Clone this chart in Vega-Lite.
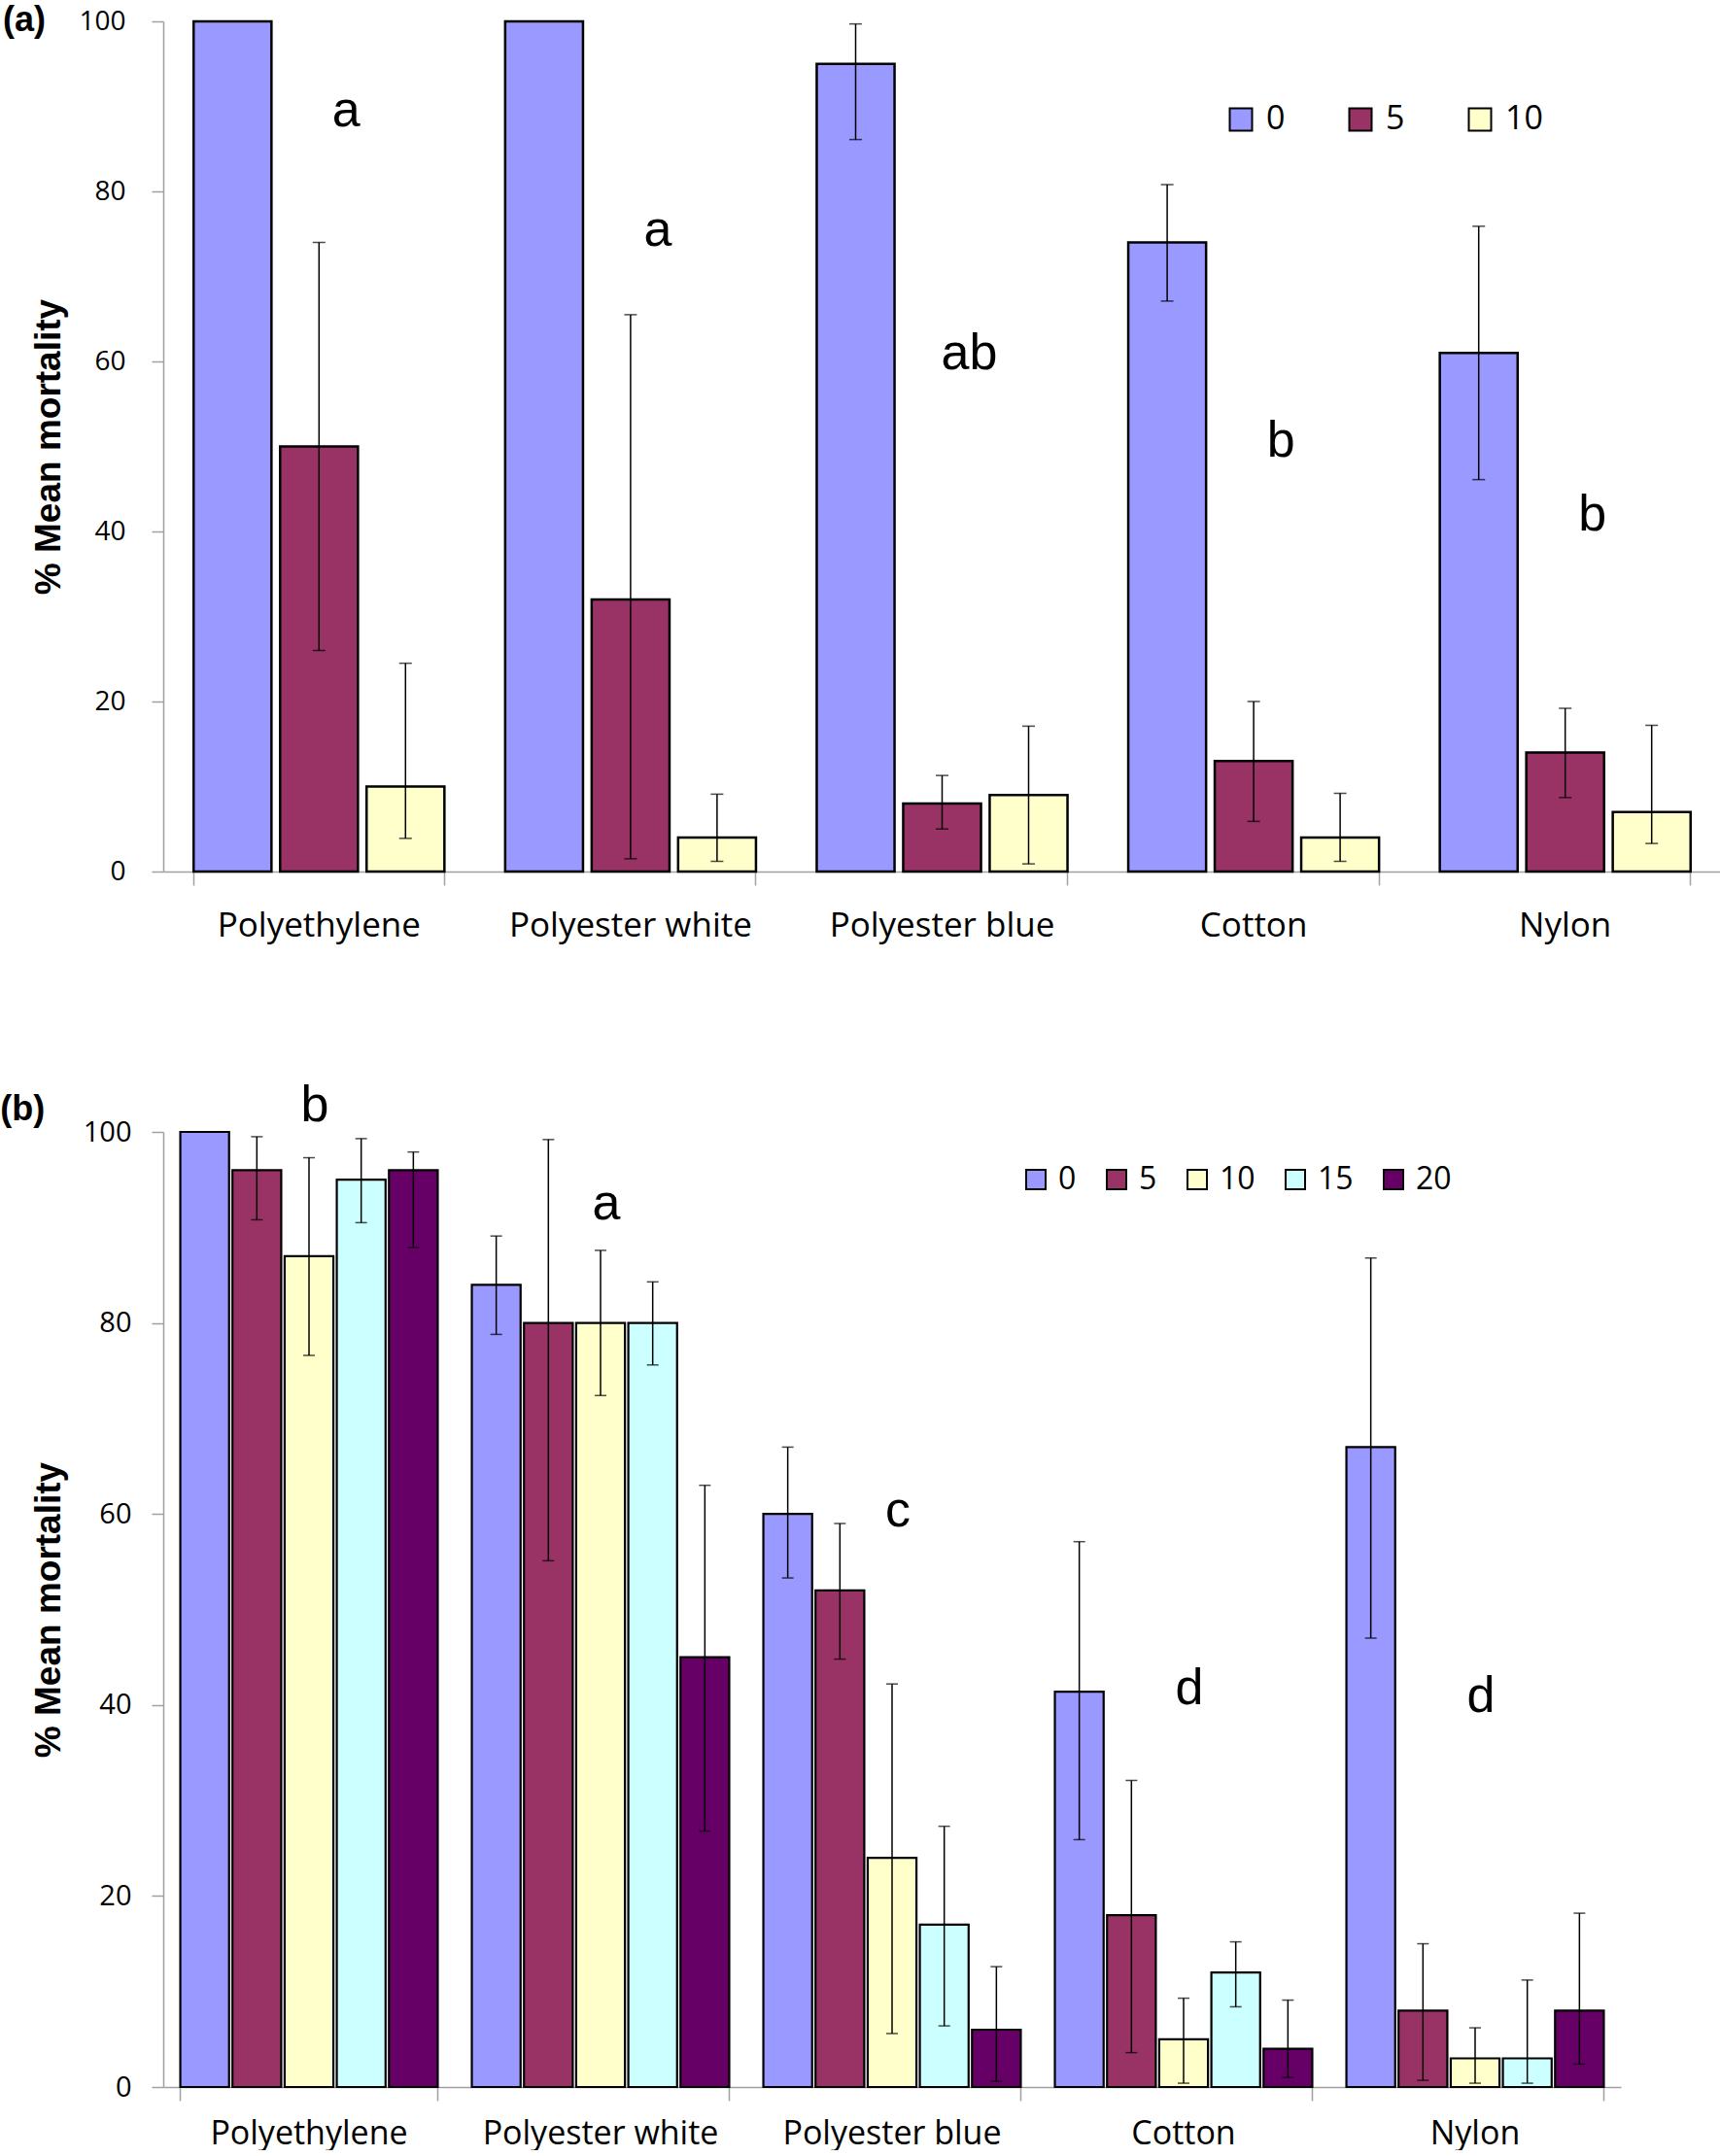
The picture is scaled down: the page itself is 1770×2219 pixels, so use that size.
{
  "$schema": "https://vega.github.io/schema/vega-lite/v6.json",
  "padding": {"left": 0, "top": 3, "right": 0, "bottom": 0},
  "background": "white",
  "spacing": 142,
  "resolve": {"scale": {"color": "independent", "x": "independent", "xOffset": "independent", "y": "independent"}, "legend": {"color": "independent"}},
  "config": {
    "view": {"stroke": null},
    "axis": {"labelFont": "Open Sans", "labelColor": "black", "labelLimit": 0, "domainColor": "#a0a0a0", "tickColor": "#a0a0a0", "domainWidth": 1.5, "tickWidth": 1.5, "grid": false, "titleFont": "Liberation Sans", "titleFontWeight": "bold", "titleColor": "black"},
    "legend": {"padding": 0, "labelColor": "black", "labelFont": "Open Sans", "labelLimit": 0}
  },
  "datasets": {
    "a": [
      {"material": "Polyethylene", "dose": "0", "value": 100, "lo": null, "hi": null},
      {"material": "Polyethylene", "dose": "5", "value": 50, "lo": 26, "hi": 74},
      {"material": "Polyethylene", "dose": "10", "value": 10, "lo": 3.9, "hi": 24.5},
      {"material": "Polyester white", "dose": "0", "value": 100, "lo": null, "hi": null},
      {"material": "Polyester white", "dose": "5", "value": 32, "lo": 1.5, "hi": 65.5},
      {"material": "Polyester white", "dose": "10", "value": 4, "lo": 1.2, "hi": 9.1},
      {"material": "Polyester blue", "dose": "0", "value": 95, "lo": 86.1, "hi": 99.7},
      {"material": "Polyester blue", "dose": "5", "value": 8, "lo": 5.0, "hi": 11.3},
      {"material": "Polyester blue", "dose": "10", "value": 9, "lo": 0.9, "hi": 17.1},
      {"material": "Cotton", "dose": "0", "value": 74, "lo": 67.1, "hi": 80.8},
      {"material": "Cotton", "dose": "5", "value": 13, "lo": 5.9, "hi": 20.0},
      {"material": "Cotton", "dose": "10", "value": 4, "lo": 1.2, "hi": 9.2},
      {"material": "Nylon", "dose": "0", "value": 61, "lo": 46.1, "hi": 75.9},
      {"material": "Nylon", "dose": "5", "value": 14, "lo": 8.7, "hi": 19.2},
      {"material": "Nylon", "dose": "10", "value": 7, "lo": 3.3, "hi": 17.2}
    ],
    "aL": [
      {"material": "Polyethylene", "letter": "a", "y": 89.5},
      {"material": "Polyester white", "letter": "a", "y": 75.4},
      {"material": "Polyester blue", "letter": "ab", "y": 60.9},
      {"material": "Cotton", "letter": "b", "y": 50.6},
      {"material": "Nylon", "letter": "b", "y": 41.9}
    ],
    "b": [
      {"material": "Polyethylene", "dose": "0", "value": 100, "lo": null, "hi": null},
      {"material": "Polyethylene", "dose": "5", "value": 96, "lo": 90.8, "hi": 99.5},
      {"material": "Polyethylene", "dose": "10", "value": 87, "lo": 76.6, "hi": 97.3},
      {"material": "Polyethylene", "dose": "15", "value": 95, "lo": 90.5, "hi": 99.3},
      {"material": "Polyethylene", "dose": "20", "value": 96, "lo": 87.9, "hi": 97.9},
      {"material": "Polyester white", "dose": "0", "value": 84, "lo": 78.8, "hi": 89.1},
      {"material": "Polyester white", "dose": "5", "value": 80, "lo": 55.1, "hi": 99.2},
      {"material": "Polyester white", "dose": "10", "value": 80, "lo": 72.4, "hi": 87.6},
      {"material": "Polyester white", "dose": "15", "value": 80, "lo": 75.6, "hi": 84.3},
      {"material": "Polyester white", "dose": "20", "value": 45, "lo": 26.8, "hi": 63.0},
      {"material": "Polyester blue", "dose": "0", "value": 60, "lo": 53.3, "hi": 67.0},
      {"material": "Polyester blue", "dose": "5", "value": 52, "lo": 44.8, "hi": 59.0},
      {"material": "Polyester blue", "dose": "10", "value": 24, "lo": 5.6, "hi": 42.2},
      {"material": "Polyester blue", "dose": "15", "value": 17, "lo": 6.4, "hi": 27.3},
      {"material": "Polyester blue", "dose": "20", "value": 6, "lo": 0.6, "hi": 12.6},
      {"material": "Cotton", "dose": "0", "value": 41.4, "lo": 25.9, "hi": 57.1},
      {"material": "Cotton", "dose": "5", "value": 18, "lo": 3.6, "hi": 32.1},
      {"material": "Cotton", "dose": "10", "value": 5, "lo": 0.4, "hi": 9.3},
      {"material": "Cotton", "dose": "15", "value": 12, "lo": 8.4, "hi": 15.2},
      {"material": "Cotton", "dose": "20", "value": 4, "lo": 1.0, "hi": 9.1},
      {"material": "Nylon", "dose": "0", "value": 67, "lo": 47.0, "hi": 86.8},
      {"material": "Nylon", "dose": "5", "value": 8, "lo": 0.7, "hi": 15.0},
      {"material": "Nylon", "dose": "10", "value": 3, "lo": 0.4, "hi": 6.2},
      {"material": "Nylon", "dose": "15", "value": 3, "lo": 0.4, "hi": 11.2},
      {"material": "Nylon", "dose": "20", "value": 8, "lo": 2.4, "hi": 18.2}
    ],
    "bL": [
      {"material": "Polyethylene", "letter": "b", "y": 102.7},
      {"material": "Polyester white", "letter": "a", "y": 92.5},
      {"material": "Polyester blue", "letter": "c", "y": 60.3},
      {"material": "Cotton", "letter": "d", "y": 41.7},
      {"material": "Nylon", "letter": "d", "y": 40.9}
    ]
  },
  "vconcat": [
    {
      "width": 1603,
      "height": 875,
      "title": {"text": "(a)", "anchor": "start", "frame": "bounds", "offset": -32, "dx": -29, "fontSize": 36, "font": "Liberation Sans", "fontWeight": "bold", "color": "black"},
      "layer": [
        {
          "data": {"name": "a"},
          "mark": {"type": "bar", "stroke": "black", "strokeWidth": 2.5},
          "encoding": {
            "x": {"field": "material", "type": "nominal", "sort": ["Polyethylene", "Polyester white", "Polyester blue", "Cotton", "Nylon"], "scale": {"paddingInner": 0.195, "paddingOuter": 0.0975}, "axis": {"title": null, "labelFontSize": 35, "labelPadding": 24, "tickSize": 14, "bandPosition": 1, "tickExtra": true, "labelAngle": 0}},
            "xOffset": {"field": "dose", "type": "nominal", "sort": ["0", "5", "10"], "scale": {"paddingInner": 0.1, "paddingOuter": 0}},
            "y": {"field": "value", "type": "quantitative", "scale": {"domain": [0, 100], "nice": false}, "axis": {"values": [0, 20, 40, 60, 80, 100], "title": "% Mean mortality", "titleFontSize": 37, "labelFontSize": 28, "tickSize": 12, "labelPadding": 27, "titlePadding": 11}},
            "color": {"field": "dose", "type": "nominal", "sort": ["0", "5", "10"], "scale": {"domain": ["0", "5", "10"], "range": ["#9999FF", "#993366", "#FFFFCC"]}, "legend": {"orient": "none", "legendX": 1092, "legendY": 84, "direction": "horizontal", "title": null, "symbolType": "square", "symbolSize": 529, "symbolStrokeColor": "black", "symbolStrokeWidth": 2, "labelFontSize": 34, "labelOffset": 9, "columnPadding": 60}}
          }
        },
        {
          "data": {"name": "a"},
          "mark": {"type": "rule", "color": "black", "strokeWidth": 1.5},
          "encoding": {
            "x": {"field": "material", "type": "nominal", "sort": ["Polyethylene", "Polyester white", "Polyester blue", "Cotton", "Nylon"]},
            "xOffset": {"field": "dose", "type": "nominal", "sort": ["0", "5", "10"]},
            "y": {"field": "lo", "type": "quantitative"},
            "y2": {"field": "hi"}
          }
        },
        {
          "data": {"name": "a"},
          "mark": {"type": "tick", "color": "black", "thickness": 1.5, "size": 13},
          "encoding": {
            "x": {"field": "material", "type": "nominal", "sort": ["Polyethylene", "Polyester white", "Polyester blue", "Cotton", "Nylon"]},
            "xOffset": {"field": "dose", "type": "nominal", "sort": ["0", "5", "10"]},
            "y": {"field": "lo", "type": "quantitative"}
          }
        },
        {
          "data": {"name": "a"},
          "mark": {"type": "tick", "color": "black", "thickness": 1.5, "size": 13},
          "encoding": {
            "x": {"field": "material", "type": "nominal", "sort": ["Polyethylene", "Polyester white", "Polyester blue", "Cotton", "Nylon"]},
            "xOffset": {"field": "dose", "type": "nominal", "sort": ["0", "5", "10"]},
            "y": {"field": "hi", "type": "quantitative"}
          }
        },
        {
          "data": {"name": "aL"},
          "mark": {"type": "text", "font": "Liberation Sans", "fontSize": 52, "dx": 28, "baseline": "middle", "color": "black"},
          "encoding": {
            "x": {"field": "material", "type": "nominal", "sort": ["Polyethylene", "Polyester white", "Polyester blue", "Cotton", "Nylon"]},
            "y": {"field": "y", "type": "quantitative"},
            "text": {"field": "letter"}
          }
        }
      ]
    },
    {
      "width": 1500,
      "height": 983,
      "title": {"text": "(b)", "anchor": "start", "frame": "bounds", "offset": -49, "dx": -31, "fontSize": 36, "font": "Liberation Sans", "fontWeight": "bold", "color": "black"},
      "layer": [
        {
          "data": {"name": "b"},
          "mark": {"type": "bar", "stroke": "black", "strokeWidth": 2.2},
          "encoding": {
            "x": {"field": "material", "type": "nominal", "sort": ["Polyethylene", "Polyester white", "Polyester blue", "Cotton", "Nylon"], "scale": {"paddingInner": 0.117, "paddingOuter": 0.0585}, "axis": {"title": null, "labelFontSize": 34, "labelPadding": 17, "tickSize": 14, "bandPosition": 1, "tickExtra": true, "labelAngle": 0}},
            "xOffset": {"field": "dose", "type": "nominal", "sort": ["0", "5", "10", "15", "20"], "scale": {"paddingInner": 0.065, "paddingOuter": 0}},
            "y": {"field": "value", "type": "quantitative", "scale": {"domain": [0, 100], "nice": false}, "axis": {"values": [0, 20, 40, 60, 80, 100], "title": "% Mean mortality", "titleFontSize": 37, "labelFontSize": 29, "tickSize": 12, "labelPadding": 21, "titlePadding": 16}},
            "color": {"field": "dose", "type": "nominal", "sort": ["0", "5", "10", "15", "20"], "scale": {"domain": ["0", "5", "10", "15", "20"], "range": ["#9999FF", "#993366", "#FFFFCC", "#CCFFFF", "#660066"]}, "legend": {"orient": "none", "legendX": 882, "legendY": 33, "direction": "horizontal", "title": null, "symbolType": "square", "symbolSize": 400, "symbolStrokeColor": "black", "symbolStrokeWidth": 2, "labelFontSize": 32, "labelOffset": 7, "columnPadding": 25}}
          }
        },
        {
          "data": {"name": "b"},
          "mark": {"type": "rule", "color": "black", "strokeWidth": 1.5},
          "encoding": {
            "x": {"field": "material", "type": "nominal", "sort": ["Polyethylene", "Polyester white", "Polyester blue", "Cotton", "Nylon"]},
            "xOffset": {"field": "dose", "type": "nominal", "sort": ["0", "5", "10", "15", "20"]},
            "y": {"field": "lo", "type": "quantitative"},
            "y2": {"field": "hi"}
          }
        },
        {
          "data": {"name": "b"},
          "mark": {"type": "tick", "color": "black", "thickness": 1.5, "size": 12},
          "encoding": {
            "x": {"field": "material", "type": "nominal", "sort": ["Polyethylene", "Polyester white", "Polyester blue", "Cotton", "Nylon"]},
            "xOffset": {"field": "dose", "type": "nominal", "sort": ["0", "5", "10", "15", "20"]},
            "y": {"field": "lo", "type": "quantitative"}
          }
        },
        {
          "data": {"name": "b"},
          "mark": {"type": "tick", "color": "black", "thickness": 1.5, "size": 12},
          "encoding": {
            "x": {"field": "material", "type": "nominal", "sort": ["Polyethylene", "Polyester white", "Polyester blue", "Cotton", "Nylon"]},
            "xOffset": {"field": "dose", "type": "nominal", "sort": ["0", "5", "10", "15", "20"]},
            "y": {"field": "hi", "type": "quantitative"}
          }
        },
        {
          "data": {"name": "bL"},
          "mark": {"type": "text", "font": "Liberation Sans", "fontSize": 52, "dx": 6, "baseline": "middle", "color": "black"},
          "encoding": {
            "x": {"field": "material", "type": "nominal", "sort": ["Polyethylene", "Polyester white", "Polyester blue", "Cotton", "Nylon"]},
            "y": {"field": "y", "type": "quantitative"},
            "text": {"field": "letter"}
          }
        }
      ]
    }
  ]
}
